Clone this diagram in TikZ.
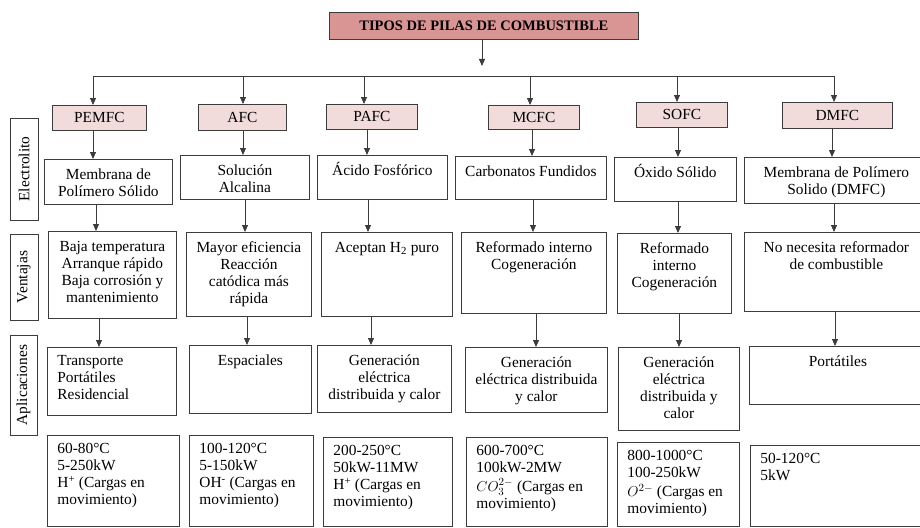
\documentclass[tikz,border=0pt]{standalone}
\usepackage{fontspec}
\setmainfont{Liberation Serif}
\usetikzlibrary{arrows.meta}

\definecolor{rojoTitulo}{HTML}{D99594}
\definecolor{rosaPila}{HTML}{F2DCDB}
\definecolor{borde}{HTML}{3C3C3C}

\newcommand{\celdaC}[3]{\parbox[b][#2pt][t]{#1pt}{\centering\rule{0pt}{20pt}#3}}
\newcommand{\celdaL}[3]{\parbox[b][#2pt][t]{#1pt}{\raggedright\leftskip=10pt\rule{0pt}{18pt}#3}}

\tikzset{
    caja/.style={draw=borde, line width=0.8pt, inner sep=0pt, anchor=north west,
        font=\fontsize{15.4}{17}\selectfont},
    pila/.style={caja, fill=rosaPila},
    titulo/.style={caja, fill=rojoTitulo, font=\fontsize{14.5}{17}\selectfont\bfseries},
    etiqueta/.style={draw=borde, line width=0.8pt, inner sep=0pt, rotate=90,
        font=\fontsize{15.4}{17}\selectfont},
    flecha/.style={draw=borde, line width=0.8pt, -{Triangle[width=6pt,length=7pt]}},
    linea/.style={draw=borde, line width=0.8pt}
}

\begin{document}
\begin{tikzpicture}[x=1pt, y=-1pt]
    \clip (0,0) rectangle (920,527);

    \node[titulo, minimum width=309, minimum height=27] (titulo) at (329,12) {TIPOS DE PILAS DE COMBUSTIBLE};

    \node[pila, minimum width=94, minimum height=25] (pemfcH) at (52,105) {PEMFC};
    \node[pila, minimum width=88, minimum height=26] (afcH) at (198,104) {AFC};
    \node[pila, minimum width=91, minimum height=25] (pafcH) at (326,104) {PAFC};
    \node[pila, minimum width=91, minimum height=24] (mcfcH) at (488,105) {MCFC};
    \node[pila, minimum width=91, minimum height=25] (sofcH) at (636,102) {SOFC};
    \node[pila, minimum width=110, minimum height=26] (dmfcH) at (782,102) {DMFC};

    \coordinate (bajada) at (482,66);
    \coordinate (barraI) at (93,76);
    \coordinate (barraD) at (834,76);
    \draw[flecha] (482,0 |- titulo.south) -- (bajada);
    \draw[linea] (barraI) -- (barraD);
    \draw[flecha] (barraI) -- (barraI |- pemfcH.north);
    \draw[flecha] (243,0 |- barraI) -- (243,0 |- afcH.north);
    \draw[flecha] (364,0 |- barraI) -- (364,0 |- pafcH.north);
    \draw[flecha] (530,0 |- barraI) -- (530,0 |- mcfcH.north);
    \draw[flecha] (677,0 |- barraI) -- (677,0 |- sofcH.north);
    \draw[flecha] (barraD) -- (barraD |- dmfcH.north);

    \node[etiqueta, minimum width=102, minimum height=28] (labE) at (24,169) {Electrolito};
    \node[etiqueta, minimum width=86, minimum height=28] (labV) at (24,277) {Ventajas};
    \node[etiqueta, minimum width=100, minimum height=27] (labA) at (23.5,385) {Aplicaciones};

    % electrolito
    \node[caja] (pemfcE) at (44,159) {\celdaC{128}{45}{Membrana de\\Polímero Sólido}};
    \node[caja] (afcE) at (180,155) {\celdaC{129}{44}{Solución\\Alcalina}};
    \node[caja] (pafcE) at (317,155) {\celdaC{130}{44}{Ácido Fosfórico}};
    \node[caja] (mcfcE) at (455,156) {\celdaC{151}{43}{Carbonatos Fundidos}};
    \node[caja] (sofcE) at (614,157) {\celdaC{122}{44}{Óxido Sólido}};
    \node[caja] (dmfcE) at (744,157) {\celdaC{184}{46}{Membrana de Polímero\\Solido (DMFC)}};

    % ventajas
    \node[caja] (pemfcV) at (48,231) {\celdaC{128}{87}{Baja temperatura\\Arranque rápido\\Baja corrosión y\\mantenimiento}};
    \node[caja] (afcV) at (186,232) {\celdaC{125}{84}{Mayor eficiencia\\Reacción\\catódica más\\rápida}};
    \node[caja] (pafcV) at (321,232) {\celdaC{131}{84}{Aceptan H\textsubscript{2} puro}};
    \node[caja] (mcfcV) at (461,232) {\celdaC{145}{81}{Reformado interno\\Cogeneración}};
    \node[caja] (sofcV) at (617,233) {\celdaC{114}{80}{Reformado\\interno\\Cogeneración}};
    \node[caja] (dmfcV) at (744,232) {\celdaC{184}{79}{No necesita reformador\\de combustible}};

    % aplicaciones
    \node[caja] (pemfcA) at (47,347) {\celdaL{129}{68}{Transporte\\Portátiles\\Residencial}};
    \node[caja] (afcA) at (189,345) {\celdaC{122}{68}{Espaciales}};
    \node[caja] (pafcA) at (317,345) {\celdaC{134}{67}{Generación\\eléctrica\\distribuida y calor}};
    \node[caja] (mcfcA) at (465,347) {\celdaC{142}{65}{Generación\\eléctrica distribuida\\y calor}};
    \node[caja] (sofcA) at (618,347) {\celdaC{121}{83}{Generación\\eléctrica\\distribuida y\\calor}};
    \node[caja] (dmfcA) at (749,346) {\celdaC{177}{58}{Portátiles}};

    % datos
    \node[caja] (pemfcD) at (47,435) {\celdaL{132}{91}{60-80°C\\5-250kW\\H\textsuperscript{+} (Cargas en\\movimiento)}};
    \node[caja] (afcD) at (189,435) {\celdaL{124}{91}{100-120°C\\5-150kW\\OH\textsuperscript{-} (Cargas en\\movimiento)}};
    \node[caja] (pafcD) at (323,437) {\celdaL{129}{89}{200-250°C\\50kW-11MW\\H\textsuperscript{+} (Cargas en\\movimiento)}};
    \node[caja] (mcfcD) at (466,437) {\celdaL{141}{89}{600-700°C\\100kW-2MW\\[2pt]$CO_3^{2-}$ (Cargas en\\movimiento)}};
    \node[caja] (sofcD) at (617,442) {\celdaL{122}{84}{800-1000°C\\100-250kW\\[2pt]$O^{2-}$ (Cargas en\\movimiento)}};
    \node[caja] (dmfcD) at (750,445) {\celdaL{178}{81}{50-120°C\\5kW}};

    \draw[flecha] (93,0 |- pemfcH.south) -- (93,0 |- pemfcE.north);
    \draw[flecha] (243,0 |- afcH.south) -- (243,0 |- afcE.north);
    \draw[flecha] (367,0 |- pafcH.south) -- (367,0 |- pafcE.north);
    \draw[flecha] (532,0 |- mcfcH.south) -- (532,0 |- mcfcE.north);
    \draw[flecha] (678,0 |- sofcH.south) -- (678,0 |- sofcE.north);
    \draw[flecha] (832,0 |- dmfcH.south) -- (832,0 |- dmfcE.north);

    \draw[flecha] (96,0 |- pemfcE.south) -- (96,0 |- pemfcV.north);
    \draw[flecha] (245,0 |- afcE.south) -- (245,0 |- afcV.north);
    \draw[flecha] (368,0 |- pafcE.south) -- (368,0 |- pafcV.north);
    \draw[flecha] (533,0 |- mcfcE.south) -- (533,0 |- mcfcV.north);
    \draw[flecha] (678,0 |- sofcE.south) -- (678,0 |- sofcV.north);
    \draw[flecha] (834,0 |- dmfcE.south) -- (834,0 |- dmfcV.north);

    \draw[flecha] (99,0 |- pemfcV.south) -- (99,0 |- pemfcA.north);
    \draw[flecha] (247,0 |- afcV.south) -- (247,0 |- afcA.north);
    \draw[flecha] (371,0 |- pafcV.south) -- (371,0 |- pafcA.north);
    \draw[flecha] (536,0 |- mcfcV.south) -- (536,0 |- mcfcA.north);
    \draw[flecha] (679,0 |- sofcV.south) -- (679,0 |- sofcA.north);
    \draw[flecha] (835,0 |- dmfcV.south) -- (835,0 |- dmfcA.north);

\end{tikzpicture}
\end{document}
